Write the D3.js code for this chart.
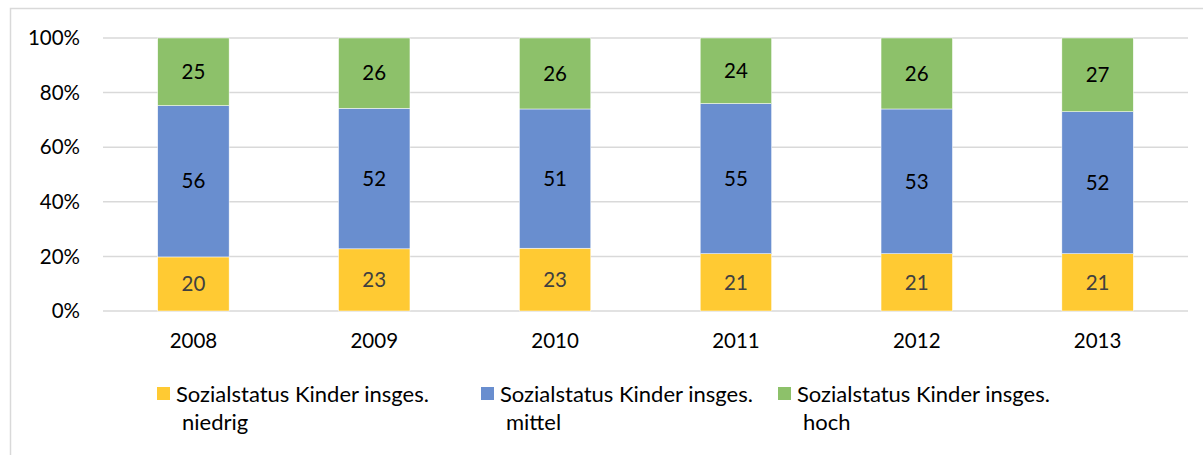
<!DOCTYPE html>
<html>
<head>
<meta charset="utf-8">
<script src="https://cdn.jsdelivr.net/npm/d3@7"></script>
<style>
  body { margin: 0; background: #fff; }
  svg { display: block; font-family: Lato, "Open Sans", sans-serif; }
</style>
</head>
<body>
<svg id="chart" width="1203" height="455"></svg>
<script>
// Data
const years = ['2008', '2009', '2010', '2011', '2012', '2013'];
const niedrig = [20, 23, 23, 21, 21, 21];
const mittel = [56, 52, 51, 55, 53, 52];
const hoch = [25, 26, 26, 24, 26, 27];
const yTicks = [0, 0.2, 0.4, 0.6, 0.8, 1];
const seriesNames = [
    ['Sozialstatus Kinder insges.', 'niedrig'],
    ['Sozialstatus Kinder insges.', 'mittel'],
    ['Sozialstatus Kinder insges.', 'hoch']
];
const colors = ['#FFCA33', '#698ECF', '#8DC16A'];
const labelColors = ['#404040', '#000', '#000'];

const svg = d3.select('#chart');

// chart area border (left + top only visible)
svg.append('path')
    .attr('d', 'M10.5,455 V8.5 H1203')
    .attr('fill', 'none')
    .attr('stroke', '#D9D9D9')
    .attr('stroke-width', 1.5);

const x = d3.scaleBand().domain(years).range([103, 1188]);
const y = d3.scaleLinear().domain([0, 1]).range([311, 38]);

// gridlines
svg.append('g')
    .selectAll('line')
    .data(yTicks)
    .join('line')
    .attr('x1', 103).attr('x2', 1188)
    .attr('y1', d => y(d)).attr('y2', d => y(d))
    .attr('stroke', '#D9D9D9')
    .attr('stroke-width', 1.5);

// y tick labels
svg.append('g')
    .selectAll('text')
    .data(yTicks)
    .join('text')
    .attr('x', 80)
    .attr('y', d => y(d))
    .attr('dy', '0.35em')
    .attr('text-anchor', 'end')
    .attr('font-size', 20.5)
    .attr('fill', '#000')
    .text(d => d3.format('.0%')(d));

// stacked (normalised) data
const rows = years.map((yr, i) => ({ year: yr, s0: niedrig[i], s1: mittel[i], s2: hoch[i] }));
const stack = d3.stack().keys(['s0', 's1', 's2']).offset(d3.stackOffsetExpand);
const series = stack(rows);

const barW = x.bandwidth() * 0.395;

const layers = svg.append('g')
    .selectAll('g')
    .data(series)
    .join('g')
    .attr('fill', (d, i) => colors[i]);

layers.selectAll('rect')
    .data(d => d)
    .join('rect')
    .attr('x', d => x(d.data.year) + x.bandwidth() / 2 - barW / 2)
    .attr('width', barW)
    .attr('y', d => y(d[1]))
    .attr('height', d => y(d[0]) - y(d[1]))
    .attr('stroke', '#fff')
    .attr('stroke-width', 0.5);

// data labels
series.forEach((s, i) => {
    svg.append('g')
        .selectAll('text')
        .data(s)
        .join('text')
        .attr('x', d => x(d.data.year) + x.bandwidth() / 2)
        .attr('y', d => (y(d[0]) + y(d[1])) / 2)
        .attr('dy', '0.35em')
        .attr('text-anchor', 'middle')
        .attr('font-size', 20.5)
        .attr('fill', labelColors[i])
        .text(d => d.data[s.key]);
});

// x labels
svg.append('g')
    .selectAll('text')
    .data(years)
    .join('text')
    .attr('x', d => x(d) + x.bandwidth() / 2)
    .attr('y', 341)
    .attr('dy', '0.35em')
    .attr('text-anchor', 'middle')
    .attr('font-size', 20.5)
    .attr('fill', '#000')
    .text(d => d);

// legend
const legendX = [157, 481, 778];
const legend = svg.append('g')
    .selectAll('g')
    .data(seriesNames)
    .join('g')
    .attr('transform', (d, i) => `translate(${legendX[i]},0)`);

legend.append('rect')
    .attr('x', 0).attr('y', 387)
    .attr('width', 13).attr('height', 13)
    .attr('fill', (d, i) => colors[i]);

legend.append('text')
    .attr('x', 19).attr('y', 394)
    .attr('dy', '0.35em')
    .attr('font-size', 22)
    .attr('fill', '#000')
    .text(d => d[0]);

legend.append('text')
    .attr('x', 25).attr('y', 422)
    .attr('dy', '0.35em')
    .attr('font-size', 22)
    .attr('fill', '#000')
    .text(d => d[1]);
</script>
</body>
</html>
